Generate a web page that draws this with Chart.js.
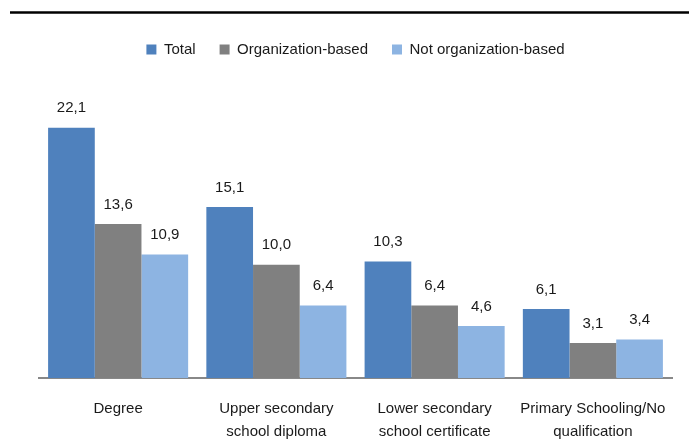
<!DOCTYPE html>
<html>
<head>
<meta charset="utf-8">
<script src="https://cdn.jsdelivr.net/npm/chart.js@4/dist/chart.umd.min.js"></script>
<style>
  html, body { margin: 0; padding: 0; background: #fff; }
  #wrap { width: 689px; height: 444px; position: relative; }
</style>
</head>
<body>
<div id="wrap"><canvas id="eduChart" width="689" height="444"></canvas></div>
<script>
const categories = [
    'Degree',
    ['Upper secondary', 'school diploma'],
    ['Lower secondary', 'school certificate'],
    ['Primary Schooling/No', 'qualification']
];
const seriesNames = ['Total', 'Organization-based', 'Not organization-based'];
const totalValues = [22.1, 15.1, 10.3, 6.1];
const orgValues = [13.6, 10.0, 6.4, 3.1];
const notOrgValues = [10.9, 6.4, 4.6, 3.4];

const fontFamily = "'Liberation Sans Narrow', 'Liberation Sans', Arial, sans-serif";

// value labels above each bar, comma as decimal separator
const valueLabels = {
    id: 'valueLabels',
    afterDatasetsDraw(chart) {
        const ctx = chart.ctx;
        ctx.save();
        ctx.font = '15px ' + fontFamily;
        ctx.fillStyle = '#1a1a1a';
        ctx.textAlign = 'center';
        ctx.textBaseline = 'bottom';
        chart.data.datasets.forEach((ds, i) => {
            chart.getDatasetMeta(i).data.forEach((bar, j) => {
                ctx.fillText(ds.data[j].toFixed(1).replace('.', ','), bar.x, bar.y - 12);
            });
        });
        ctx.restore();
    }
};

// black rule across the top of the figure
const topRule = {
    id: 'topRule',
    beforeDraw(chart) {
        const ctx = chart.ctx;
        ctx.save();
        ctx.strokeStyle = '#000';
        ctx.lineWidth = 2.5;
        ctx.beginPath();
        ctx.moveTo(10, 12.5);
        ctx.lineTo(689, 12.5);
        ctx.stroke();
        ctx.restore();
    }
};

// extra room under the legend
const legendGap = {
    id: 'legendGap',
    beforeInit(chart) {
        const fit = chart.legend.fit;
        chart.legend.fit = function () {
            fit.bind(chart.legend)();
            this.height += 28;
        };
    }
};

const data = {
    labels: categories,
    datasets: [
        { label: seriesNames[0], data: totalValues, backgroundColor: '#4F81BD' },
        { label: seriesNames[1], data: orgValues, backgroundColor: '#808080' },
        { label: seriesNames[2], data: notOrgValues, backgroundColor: '#8DB4E2' }
    ]
};

const config = {
    type: 'bar',
    data: data,
    options: {
        responsive: false,
        animation: false,
        datasets: {
            bar: { categoryPercentage: 0.885, barPercentage: 1.0 }
        },
        layout: {
            padding: { top: 18, left: 39, right: 17, bottom: -19 }
        },
        plugins: {
            legend: {
                position: 'top',
                labels: {
                    boxWidth: 10,
                    boxHeight: 10,
                    padding: 24,
                    color: '#1a1a1a',
                    font: { family: fontFamily, size: 15 }
                }
            },
            tooltip: { enabled: false }
        },
        scales: {
            x: {
                grid: { display: false, drawTicks: false },
                border: { display: true, color: '#888', width: 2 },
                ticks: {
                    color: '#1a1a1a',
                    padding: 20,
                    maxRotation: 0,
                    font: { family: fontFamily, size: 15, lineHeight: 1.5 }
                }
            },
            y: {
                display: false,
                min: 0,
                max: 25
            }
        }
    },
    plugins: [valueLabels, topRule, legendGap]
};

const ctx = document.getElementById('eduChart').getContext('2d');
new Chart(ctx, config);
</script>
</body>
</html>
